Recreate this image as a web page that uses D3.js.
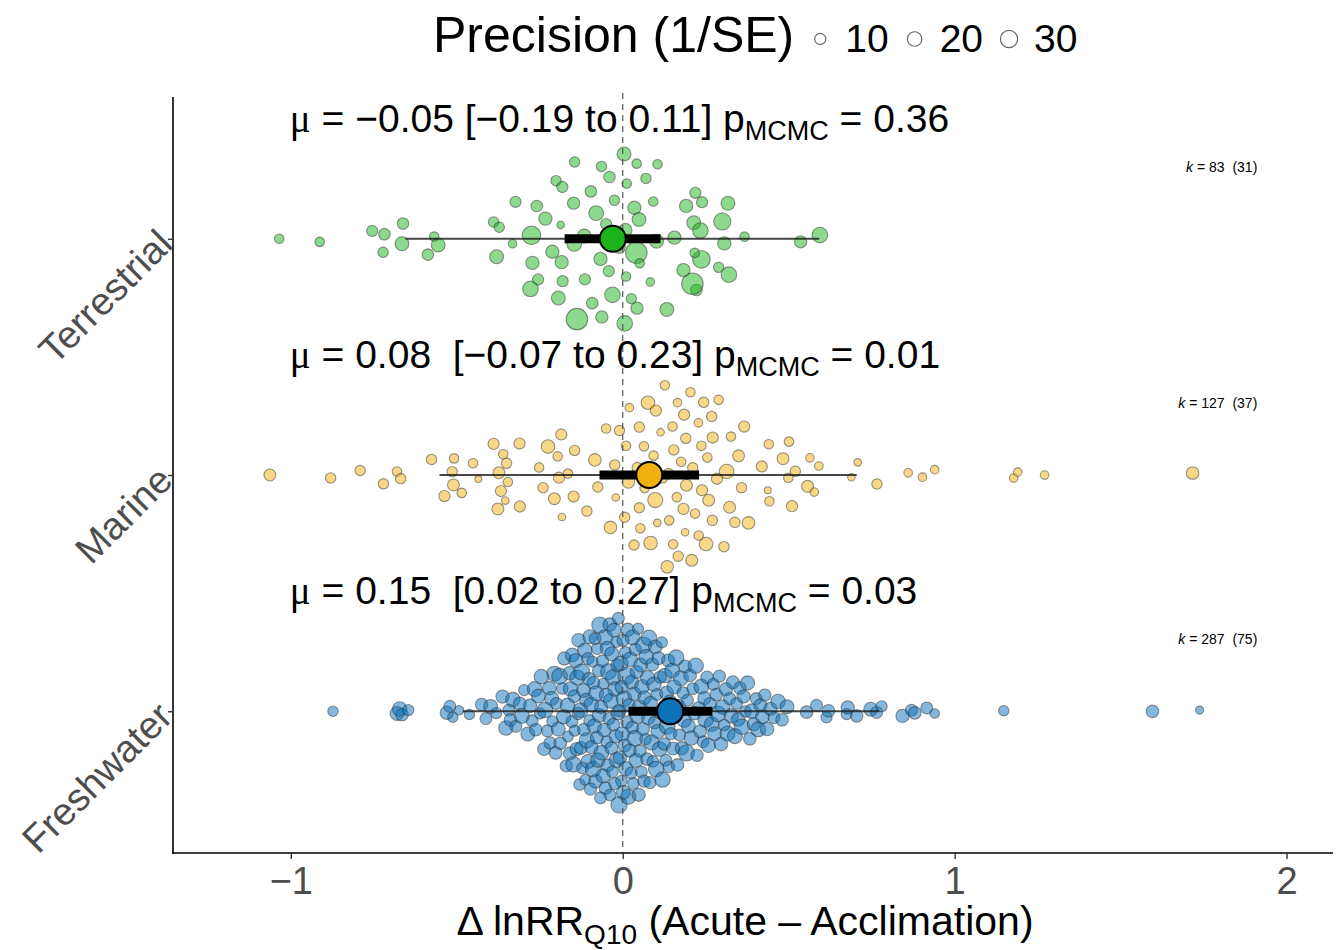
<!DOCTYPE html>
<html><head><meta charset="utf-8">
<script src="https://cdn.jsdelivr.net/npm/d3@7"></script>
<style>
body{margin:0;background:#fff}
svg{font-family:"Liberation Sans",Arial,Helvetica,sans-serif}
</style>
</head><body>
<svg id="chart" width="1343" height="950"></svg>
<script>
// ---------------- DATA ----------------
const categories = ["Terrestrial", "Marine", "Freshwater"];
const xTicks = [-1, 0, 1, 2];
const legendValues = [10, 20, 30];

// model estimates
const estimates = [-0.03, 0.08, 0.143];
const ciLow  = [-0.175, -0.07, 0.017];
const ciHigh = [0.114, 0.23, 0.27];
const piLow  = [-0.655, -0.552, -0.482];
const piHigh = [0.592, 0.705, 0.773];

// annotation texts
const muTexts = ["\u22120.05", "0.08", "0.15"];
const ciTexts = ["[\u22120.19 to 0.11]", "[\u22120.07 to 0.23]", "[0.02 to 0.27]"];
const pTexts  = ["0.36", "0.01", "0.03"];
const kValues = [83, 127, 287];
const studyCounts = [31, 37, 75];

// individual effect sizes: [effect size, precision (1/SE)]
const terrestrialPoints = [
[-1.035,6],[-0.913,6],[-0.755,10],[-0.718,11],[-0.665,18],[-0.662,11],[-0.722,8],[-0.568,6],[-0.556,18],[-0.587,11],
[-0.389,8],[-0.372,8],[-0.380,18],[-0.332,4],[-0.323,10],[-0.275,36],[-0.259,11],[-0.233,16],[-0.272,16],[-0.212,16],
[-0.184,16],[-0.255,10],[-0.278,24],[-0.181,10],[-0.194,18],[-0.138,50],[-0.187,2],[-0.201,8],[-0.182,10],[-0.146,21],
[-0.148,13],[-0.114,10],[-0.092,11],[-0.145,8],[-0.116,18],[-0.096,11],[-0.064,8],[-0.080,21],[-0.067,16],[-0.040,11],
[-0.025,8],[-0.063,13],[-0.042,10],[-0.031,24],[0.006,24],[0.042,6],[0.008,16],[0.035,16],[0.049,18],[0.010,6],
[0.041,50],[0.051,6],[0.012,6],[0.026,8],[0.043,13],[0.004,18],[0.083,4],[0.133,18],[0.102,18],[0.105,6],
[0.092,6],[0.156,16],[0.222,11],[0.210,50],[0.219,10],[0.237,32],[0.289,8],[0.320,24],[0.306,16],[0.183,16],
[0.317,18],[0.217,6],[0.239,10],[0.191,16],[0.300,30],[0.367,6],[0.214,18],[0.234,24],[0.536,13],[0.594,24],
[-0.050,10],[-0.010,12],[0.070,8]
];
const marinePoints = [
[-1.063,12],[-0.880,8],[-0.791,8],[-0.721,8],[-0.680,6],[-0.669,8],[-0.576,8],[-0.510,12],[-0.514,8],[-0.508,6],
[-0.537,10],[-0.485,6],[-0.451,6],[-0.435,1],[-0.389,10],[-0.360,6],[-0.350,8],[-0.373,12],[-0.346,6],[-0.367,10],
[-0.354,2],[-0.376,12],[-0.311,10],[-0.310,10],[-0.252,6],[-0.240,8],[-0.225,17],[-0.185,10],[-0.196,6],[-0.192,10],
[-0.165,6],[-0.145,8],[-0.206,12],[-0.148,10],[-0.108,8],[-0.183,2],[-0.084,14],[-0.075,8],[-0.037,14],[-0.021,2],
[-0.010,8],[-0.024,8],[0.006,8],[0.017,14],[0.010,6],[0.050,8],[0.053,6],[0.064,6],[0.093,6],[0.098,22],
[0.066,6],[0.044,8],[0.084,17],[0.034,8],[0.076,17],[0.104,2],[0.134,14],[0.167,8],[0.208,12],[0.188,2],
[0.150,6],[0.127,6],[0.192,12],[0.163,6],[0.185,10],[0.218,6],[0.251,17],[0.229,6],[0.268,8],[0.305,8],
[0.239,10],[0.284,10],[0.259,12],[0.204,6],[0.244,8],[0.270,8],[0.165,4],[0.183,10],[0.228,4],[0.271,10],
[0.114,2],[0.152,6],[0.190,8],[0.237,6],[0.255,6],[0.313,20],[0.154,8],[0.176,6],[0.211,8],[0.138,8],
[0.326,6],[0.349,12],[0.289,6],[0.322,12],[0.338,8],[0.379,14],[0.358,8],[0.366,10],[0.419,10],[0.440,6],
[0.437,1],[0.442,6],[0.483,12],[0.501,6],[0.499,6],[0.520,8],[0.510,10],[0.557,12],[0.577,4],[0.564,4],
[0.591,4],[0.689,2],[0.708,2],[0.766,8],[0.860,4],[0.903,4],[0.940,4],[1.178,4],[1.190,4],[1.271,4],
[1.717,14],[0.020,4],[0.140,6],[0.050,8],[0.100,10],[-0.050,6],[0.120,8]
];
const freshwaterPoints = [
[-0.873,8],[-0.680,18],[-0.672,20],[-0.665,14],[-0.646,10],[-0.530,16],[-0.521,12],[-0.512,8],[-0.493,6],[-0.462,8],
[-0.425,14],[-0.412,12],[-0.398,18],[-0.381,10],[-0.362,16],[-0.352,20],[-0.343,12],
[-0.338,14],[-0.331,20],[-0.322,12],[-0.310,16],[-0.304,22],[-0.297,10],[-0.286,18],
[-0.279,16],[-0.273,12],[-0.265,22],[-0.262,14],[-0.254,18],[-0.249,10],[-0.245,20],[-0.237,15],[-0.234,24],[-0.227,12],[-0.221,17],
[-0.219,13],[-0.214,19],[-0.212,10],[-0.206,22],[-0.202,15],[-0.200,12],[-0.194,18],[-0.190,25],[-0.188,14],[-0.182,11],
[-0.178,20],[-0.176,16],[-0.170,13],[-0.166,21],[-0.165,9],[-0.160,17],
[-0.159,15],[-0.157,20],[-0.153,12],[-0.152,18],[-0.148,24],[-0.146,14],[-0.145,10],[-0.141,19],[-0.139,16],[-0.137,22],
[-0.134,13],[-0.133,17],[-0.130,11],[-0.127,21],[-0.126,15],[-0.124,26],[-0.121,12],[-0.118,18],[-0.117,14],[-0.114,20],
[-0.113,9],[-0.110,16],[-0.108,23],[-0.105,13],[-0.104,19],[-0.102,15],[-0.100,11],
[-0.099,18],[-0.097,13],[-0.095,21],[-0.094,16],[-0.091,10],[-0.089,24],[-0.088,14],[-0.086,19],[-0.083,12],[-0.082,17],
[-0.080,22],[-0.078,15],[-0.077,11],[-0.075,20],[-0.072,14],[-0.071,18],[-0.069,26],[-0.067,12],[-0.065,16],[-0.064,21],
[-0.061,13],[-0.059,19],[-0.058,10],[-0.056,17],[-0.053,23],[-0.052,14],[-0.050,18],[-0.048,12],[-0.046,20],[-0.045,15],
[-0.043,25],[-0.041,13],
[-0.039,17],[-0.038,12],[-0.036,21],[-0.034,15],[-0.033,19],[-0.031,11],[-0.029,24],[-0.028,14],[-0.026,18],[-0.024,13],
[-0.023,20],[-0.021,16],[-0.019,10],[-0.018,22],[-0.016,15],[-0.014,19],[-0.013,12],[-0.011,27],[-0.009,14],[-0.008,17],
[-0.006,21],[-0.004,11],[-0.003,16],[-0.001,20],[0.001,13],[0.002,18],[0.004,24],[0.006,15],[0.008,12],[0.009,19],
[0.011,30],[0.013,14],[0.015,17],[0.017,22],[0.019,13],
[0.021,16],[0.023,20],[0.025,12],[0.027,18],[0.029,14],[0.030,22],[0.032,11],[0.035,17],[0.037,25],[0.038,13],
[0.040,19],[0.042,15],[0.044,21],[0.046,10],[0.048,16],[0.051,23],[0.052,14],[0.054,18],[0.056,12],[0.058,20],
[0.061,15],[0.063,26],[0.064,13],[0.066,17],[0.069,11],[0.071,21],[0.073,14],[0.075,19],[0.077,16],[0.079,24],
[0.082,13],[0.084,18],[0.087,22],[0.089,15],[0.091,11],[0.094,20],[0.096,14],[0.098,17],[0.101,24],[0.103,12],
[0.106,19],[0.108,15],[0.111,21],[0.113,13],[0.115,17],[0.118,10],[0.120,23],[0.123,16],[0.125,14],[0.127,20],
[0.130,12],[0.132,18],[0.134,25],[0.137,15],[0.139,11],
[0.142,17],[0.145,13],[0.149,21],[0.152,15],[0.155,19],[0.158,11],[0.161,24],[0.165,14],[0.168,18],[0.171,12],
[0.175,22],[0.178,16],[0.182,13],[0.185,20],[0.188,15],[0.192,26],[0.195,12],[0.198,18],
[0.203,14],[0.207,20],[0.211,12],[0.216,17],[0.220,23],[0.224,13],[0.229,18],[0.233,15],[0.237,21],[0.242,11],
[0.246,16],[0.250,24],[0.254,14],[0.258,19],
[0.263,15],[0.268,21],[0.273,12],[0.277,18],[0.282,14],[0.287,25],[0.291,13],[0.296,17],[0.301,20],[0.306,11],
[0.311,16],[0.316,22],
[0.322,13],[0.327,19],[0.332,15],[0.338,22],[0.343,12],[0.348,17],[0.353,14],[0.359,24],[0.364,16],[0.370,11],[0.376,19],
[0.383,14],[0.389,20],[0.395,16],[0.402,12],[0.408,22],[0.415,15],[0.421,18],[0.428,13],[0.435,17],
[0.445,16],[0.456,12],[0.468,20],[0.480,14],[0.495,18],
[0.554,14],[0.584,12],[0.614,10],[0.620,14],[0.675,10],[0.678,16],[0.705,14],[0.747,18],[0.765,12],[0.780,10],
[0.843,16],[0.870,12],[0.880,14],[0.916,12],[0.940,6],[1.148,8],[1.596,14],[1.738,3]
];
const groupPoints = [terrestrialPoints, marinePoints, freshwaterPoints];
const groupColors = ["#1BB31B", "#F2B010", "#0B72BA"];

// ---------------- LAYOUT ----------------
const svg = d3.select("#chart");
const panel = {left: 173, right: 1333, top: 97, bottom: 853};

const x = d3.scaleLinear().domain([-1.355, 2.14]).range([panel.left, panel.right]);
const y = d3.scalePoint().domain(categories).range([panel.top, panel.bottom]).padding(0.6);
const step = y.step();
const sizeArea = d3.scaleLinear().domain([0, 50]).range([10, 116]);
const rOf = p => Math.sqrt(sizeArea(p));

// quasirandom (van der Corput) offsets, as ggbeeswarm::geom_quasirandom
function vdc(i) { let r = 0, f = 0.5; while (i > 0) { r += f * (i % 2); i = Math.floor(i / 2); f /= 2; } return r; }
function quasiOffsets(xs, width) {
  const n = xs.length;
  const sorted = xs.slice().sort(d3.ascending);
  const sd = d3.deviation(xs);
  const iqr = d3.quantileSorted(sorted, 0.75) - d3.quantileSorted(sorted, 0.25);
  let lo = Math.min(sd, iqr / 1.34);
  if (!(lo > 0)) lo = sd || 1;
  const bw = 0.9 * lo * Math.pow(n, -0.2);
  const kde = v => d3.sum(xs, t => Math.exp(-0.5 * ((v - t) / bw) ** 2));
  const gMin = sorted[0] - 3 * bw, gMax = sorted[n - 1] + 3 * bw;
  let maxD = 0;
  for (let i = 0; i < 512; i++) maxD = Math.max(maxD, kde(gMin + (gMax - gMin) * i / 511));
  const order = d3.range(n).sort((a, b) => (xs[a] - xs[b]) || (a - b));
  const rank = new Array(n);
  order.forEach((idx, r) => rank[idx] = r + 1);
  return xs.map((v, i) => (vdc(rank[i]) - 0.5) * 2 * width * kde(v) / maxD);
}

// ---------------- POINTS ----------------
const gPts = svg.append("g");
categories.forEach((cat, gi) => {
  const pts = groupPoints[gi];
  const offs = quasiOffsets(pts.map(d => d[0]), 0.4);
  gPts.append("g").selectAll("circle").data(pts).join("circle")
    .attr("cx", d => x(d[0]))
    .attr("cy", (d, i) => y(cat) - offs[i] * step)
    .attr("r", d => rOf(d[1]))
    .attr("fill", groupColors[gi]).attr("fill-opacity", 0.5)
    .attr("stroke", "#333").attr("stroke-opacity", 0.5).attr("stroke-width", 1.1);
});

// zero reference line
svg.append("line")
  .attr("x1", x(0)).attr("x2", x(0)).attr("y1", panel.top - 4).attr("y2", panel.bottom)
  .attr("stroke", "#555").attr("stroke-width", 1.2).attr("stroke-dasharray", "6,5");

// prediction intervals, confidence intervals, means
categories.forEach((cat, gi) => {
  const cy = y(cat);
  svg.append("line").attr("x1", x(piLow[gi])).attr("x2", x(piHigh[gi])).attr("y1", cy).attr("y2", cy)
    .attr("stroke", "#1a1a1a").attr("stroke-opacity", 0.8).attr("stroke-width", 2);
  svg.append("line").attr("x1", x(ciLow[gi])).attr("x2", x(ciHigh[gi])).attr("y1", cy).attr("y2", cy)
    .attr("stroke", "#000").attr("stroke-width", 9);
  svg.append("circle").attr("cx", x(estimates[gi])).attr("cy", cy).attr("r", 13)
    .attr("fill", groupColors[gi]).attr("stroke", "#000").attr("stroke-width", 2);
});

// ---------------- AXES ----------------
const axisColor = "#000";
svg.append("line").attr("x1", panel.left).attr("x2", panel.left).attr("y1", panel.top).attr("y2", panel.bottom + 0.8)
  .attr("stroke", axisColor).attr("stroke-width", 1.6);
svg.append("line").attr("x1", panel.left - 0.8).attr("x2", panel.right).attr("y1", panel.bottom).attr("y2", panel.bottom)
  .attr("stroke", axisColor).attr("stroke-width", 1.6);

const xAxis = svg.append("g").attr("transform", `translate(0,${panel.bottom})`)
  .call(d3.axisBottom(x).tickValues(xTicks).tickSize(6).tickPadding(6).tickFormat(d3.format("d")));
xAxis.select(".domain").remove();
xAxis.selectAll(".tick line").attr("stroke", "#333").attr("stroke-width", 1.4);
xAxis.selectAll(".tick text").attr("fill", "#4d4d4d").style("font-size", "38px")
  .style("font-family", "'Liberation Sans',Arial,sans-serif").attr("dy", "0.76em");

const yAxis = svg.append("g").attr("transform", `translate(${panel.left},0)`)
  .call(d3.axisLeft(y).tickSize(5).tickFormat(""));
yAxis.select(".domain").remove();
yAxis.selectAll(".tick line").attr("stroke", "#333").attr("stroke-width", 1.4);

categories.forEach(cat => {
  svg.append("text")
    .attr("transform", `translate(${panel.left - 8},${y(cat) - 2}) rotate(-45)`)
    .attr("text-anchor", "end").attr("dy", "0.35em")
    .attr("fill", "#4d4d4d").style("font-size", "38.5px")
    .text(cat);
});

// x axis title
const xt = svg.append("text").attr("x", (panel.left + panel.right) / 2 - 8).attr("y", 935)
  .attr("text-anchor", "middle").attr("fill", "#000").style("font-size", "41px");
xt.append("tspan").text("\u0394 lnRR");
xt.append("tspan").attr("dy", 9).style("font-size", "28px").text("Q10");
xt.append("tspan").attr("dy", -9).text(" (Acute \u2013 Acclimation)");

// ---------------- ANNOTATIONS ----------------
categories.forEach((cat, gi) => {
  const base = y(cat) - 0.453 * step;
  const t = svg.append("text").attr("x", x(-1) - 1).attr("y", base)
    .style("font-size", "39px").style("white-space", "pre").attr("fill", "#000");
  t.append("tspan").style("font-family", "'Liberation Serif','DejaVu Serif',serif").text("\u03bc");
  const gap = muTexts[gi].startsWith("\u2212") ? " " : "  ";
  t.append("tspan").text(" = " + muTexts[gi] + gap + ciTexts[gi] + " p");
  t.append("tspan").attr("dy", 8).style("font-size", "27px").text("MCMC");
  t.append("tspan").attr("dy", -8).text(" = " + pTexts[gi]);

  // k labels
  const kb = y(cat) - 0.284 * step;
  const kt = svg.append("text").attr("x", x(1.912)).attr("y", kb).attr("text-anchor", "end")
    .style("font-size", "14px").style("white-space", "pre").attr("fill", "#000");
  kt.append("tspan").style("font-style", "italic").text("k");
  kt.append("tspan").text(" = " + kValues[gi] + "  (" + studyCounts[gi] + ")");
});

// ---------------- LEGEND ----------------
const leg = svg.append("g");
const legTitle = leg.append("text").attr("x", 433).attr("y", 52).style("font-size", "50px")
  .attr("fill", "#000").text("Precision (1/SE)");
let cursor = 433 + legTitle.node().getComputedTextLength();
legendValues.forEach((v, i) => {
  const cx = cursor + 26;
  leg.append("circle").attr("cx", cx).attr("cy", 39).attr("r", rOf(v))
    .attr("fill", "none").attr("stroke", "#666").attr("stroke-width", 1.2);
  const lt = leg.append("text").attr("x", cx + 25).attr("y", 52).style("font-size", "39px")
    .attr("fill", "#000").text(v);
  cursor = cx + 25 + lt.node().getComputedTextLength();
});
</script>
</body></html>
